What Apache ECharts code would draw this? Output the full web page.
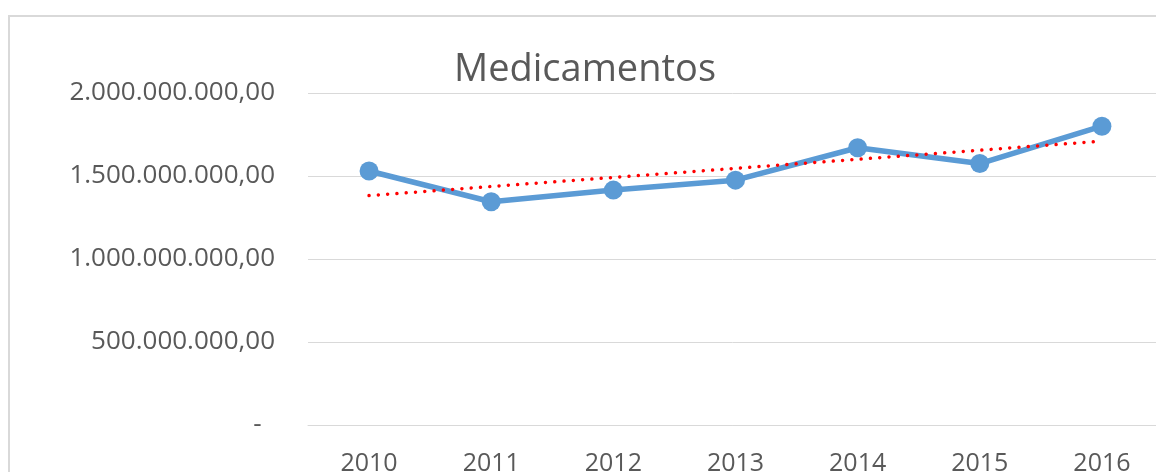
<!DOCTYPE html>
<html>
<head>
<meta charset="utf-8">
<script src="https://cdn.jsdelivr.net/npm/echarts@6/dist/echarts.min.js"></script>
<style>
  html, body { margin: 0; padding: 0; background: #fff; }
  #chart { width: 1156px; height: 472px; }
</style>
</head>
<body>
<div id="chart"></div>
<script>
// data
const years = ['2010', '2011', '2012', '2013', '2014', '2015', '2016'];
const medicamentos = [1530000000, 1345000000, 1415000000, 1475000000, 1670000000, 1575000000, 1800000000];
// linear trendline, read at its two ends
const trendEnds = [1382000000, 1710000000];
const yTicks = [0, 500000000, 1000000000, 1500000000, 2000000000];

const trend = years.map((y, i) => i === 0 ? trendEnds[0] : (i === years.length - 1 ? trendEnds[1] : null));

function fmt(v) {
  if (v === 0) return '-  ';
  return v.toLocaleString('pt-BR', { minimumFractionDigits: 2, maximumFractionDigits: 2 });
}

const font = '"Open Sans", "Noto Sans", sans-serif';
const grey = '#595959';

let myChart = echarts.init(document.getElementById('chart'), null, { renderer: 'canvas' });
let option = {
  animation: false,
  backgroundColor: '#fff',
  title: {
    text: 'Medicamentos',
    left: 449,
    top: 46,
    textStyle: { fontFamily: font, fontSize: 38, fontWeight: 'normal', color: grey }
  },
  graphic: [{
    type: 'rect',
    shape: { x: 9, y: 16, width: 1400, height: 700 },
    style: { fill: null, stroke: '#d9d9d9', lineWidth: 2 },
    silent: true
  }],
  grid: { left: 308, width: 855, top: 93, bottom: 47, outerBoundsMode: 'none' },
  xAxis: {
    type: 'category',
    data: years,
    boundaryGap: true,
    axisLine: { lineStyle: { color: '#d9d9d9', width: 1 } },
    axisTick: { show: false },
    axisLabel: { fontFamily: font, fontSize: 25, color: grey, margin: 26 }
  },
  yAxis: {
    type: 'value',
    min: yTicks[0],
    max: yTicks[yTicks.length - 1],
    interval: yTicks[1] - yTicks[0],
    axisLine: { show: false },
    axisTick: { show: false },
    splitLine: { lineStyle: { color: '#d9d9d9', width: 1 } },
    axisLabel: { fontFamily: font, fontSize: 26, color: grey, margin: 33, formatter: fmt }
  },
  series: [
    {
      name: 'Medicamentos',
      type: 'line',
      data: medicamentos,
      symbol: 'circle',
      symbolSize: 19,
      itemStyle: { color: '#5b9bd5' },
      lineStyle: { color: '#5b9bd5', width: 5.5 },
      z: 2
    },
    {
      name: 'Linear (Medicamentos)',
      type: 'line',
      data: trend,
      connectNulls: true,
      symbol: 'none',
      lineStyle: { color: '#ff0000', width: 3.5, type: [0.01, 9.3], cap: 'round' },
      z: 3
    }
  ]
};
myChart.setOption(option);
</script>
</body>
</html>
